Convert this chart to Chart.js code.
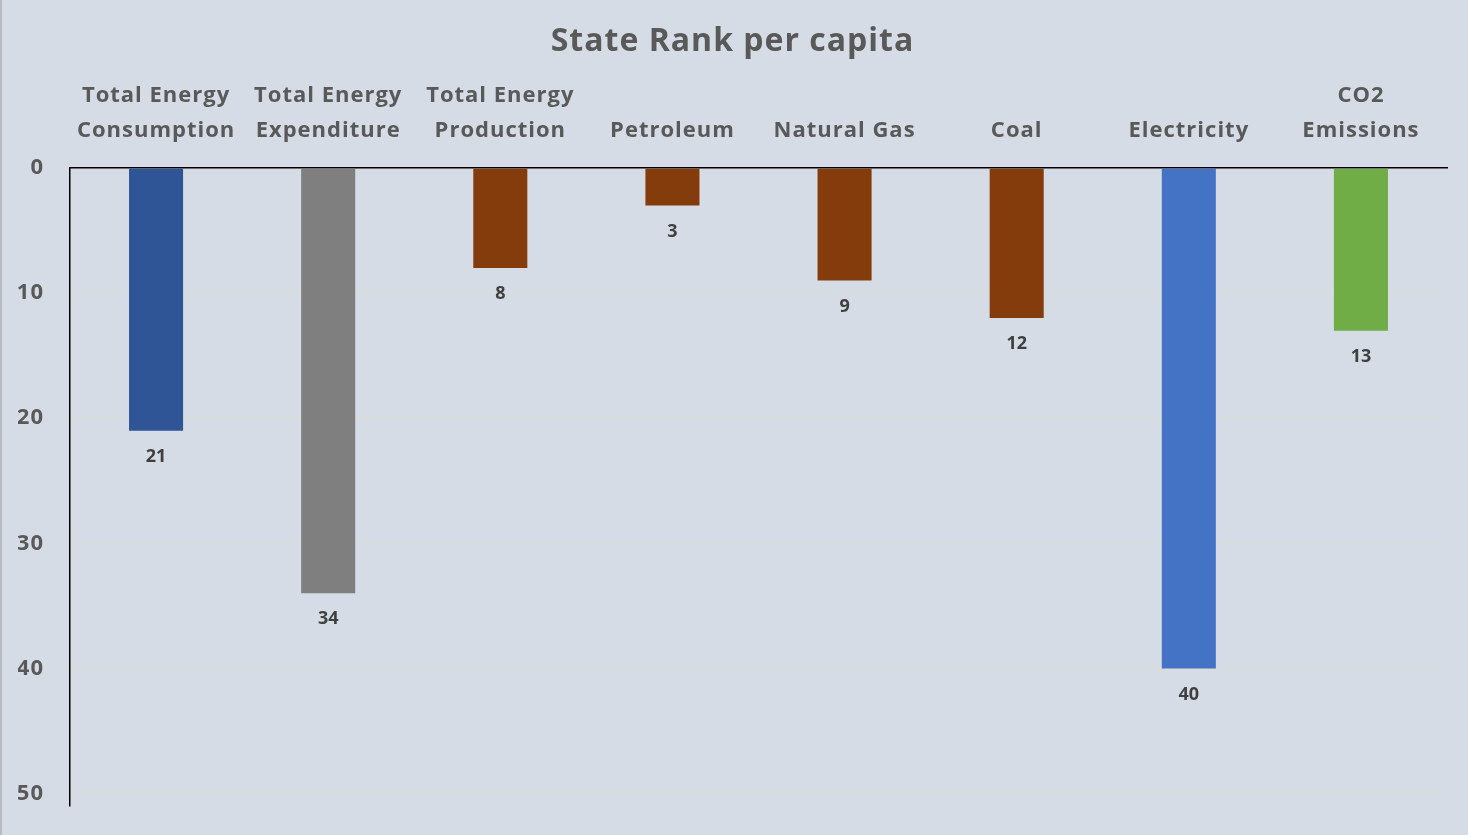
<!DOCTYPE html>
<html>
<head>
<meta charset="utf-8">
<script src="https://cdn.jsdelivr.net/npm/chart.js@4"></script>
<style>
  html, body { margin: 0; padding: 0; background: #d6dce5; }
  #wrap { position: relative; width: 1468px; height: 835px; box-sizing: border-box; border-left: 2px solid #b8bcc2; }
  canvas { display: block; }
</style>
</head>
<body>
<div id="wrap"><canvas id="c" width="1466" height="835"></canvas></div>
<script>
const categories = [
  ["Total Energy", "Consumption"],
  ["Total Energy", "Expenditure"],
  ["Total Energy", "Production"],
  "Petroleum",
  "Natural Gas",
  "Coal",
  "Electricity",
  ["CO2", "Emissions"]
];
const ranks = [21, 34, 8, 3, 9, 12, 40, 13];
const barColors = ["#2f5597", "#7f7f7f", "#843c0c", "#843c0c", "#843c0c", "#843c0c", "#4472c4", "#70ad47"];
const yTicks = [0, 10, 20, 30, 40, 50];

const FONT = "'Open Sans', 'DejaVu Sans', sans-serif";

const spacing = {
  id: 'spacing',
  beforeUpdate(chart) { chart.ctx.letterSpacing = '1px'; },
  beforeDraw(chart) { chart.ctx.letterSpacing = '1px'; }
};

const valueLabels = {
  id: 'valueLabels',
  afterDatasetsDraw(chart) {
    const ctx = chart.ctx;
    const meta = chart.getDatasetMeta(0);
    ctx.save();
    ctx.letterSpacing = '0px';
    ctx.font = "bold 18px " + FONT;
    ctx.fillStyle = "#404040";
    ctx.textAlign = "center";
    ctx.textBaseline = "middle";
    meta.data.forEach((bar, i) => {
      ctx.fillText(String(ranks[i]), bar.x, bar.y + 26);
    });
    ctx.restore();
  }
};

new Chart(document.getElementById('c'), {
  type: 'bar',
  data: {
    labels: categories,
    datasets: [{
      data: ranks,
      backgroundColor: barColors,
      borderWidth: 0,
      barPercentage: 0.314,
      categoryPercentage: 1.0
    }]
  },
  options: {
    responsive: false,
    animation: false,
    devicePixelRatio: 1,
    layout: { padding: { left: 16, right: 21, top: 0, bottom: 29 } },
    plugins: {
      legend: { display: false },
      tooltip: { enabled: false },
      title: {
        display: true,
        text: "State Rank per capita",
        color: "#595959",
        font: { family: FONT, size: 32, weight: 'bold', lineHeight: 1.2 },
        padding: { top: 23, bottom: 0 }
      }
    },
    scales: {
      x: {
        position: 'top',
        grid: { display: false, drawTicks: false },
        border: { display: true, color: "#000000", width: 1.5 },
        ticks: {
          color: "#595959",
          font: { family: FONT, size: 22, weight: 'bold', lineHeight: 1.59 },
          padding: 20,
          maxRotation: 0,
          autoSkip: false
        },
        afterFit(scale) { scale.height = 106.6; scale.paddingLeft = 0; scale.paddingRight = 0; }
      },
      y: {
        reverse: true,
        min: 0,
        max: 51,
        grid: { color: "#dcdcd8", lineWidth: 1.5, drawTicks: false },
        border: { display: true, color: "#000000", width: 1.5 },
        ticks: {
          stepSize: 10,
          includeBounds: false,
          color: "#595959",
          font: { family: FONT, size: 22, weight: 'bold' },
          padding: 26
        },
        afterBuildTicks(scale) { scale.ticks = yTicks.map(v => ({ value: v })); },
        afterFit(scale) { scale.width = 52; scale.paddingTop = 0; scale.paddingBottom = 0; }
      }
    }
  },
  plugins: [spacing, valueLabels]
});
</script>
</body>
</html>
